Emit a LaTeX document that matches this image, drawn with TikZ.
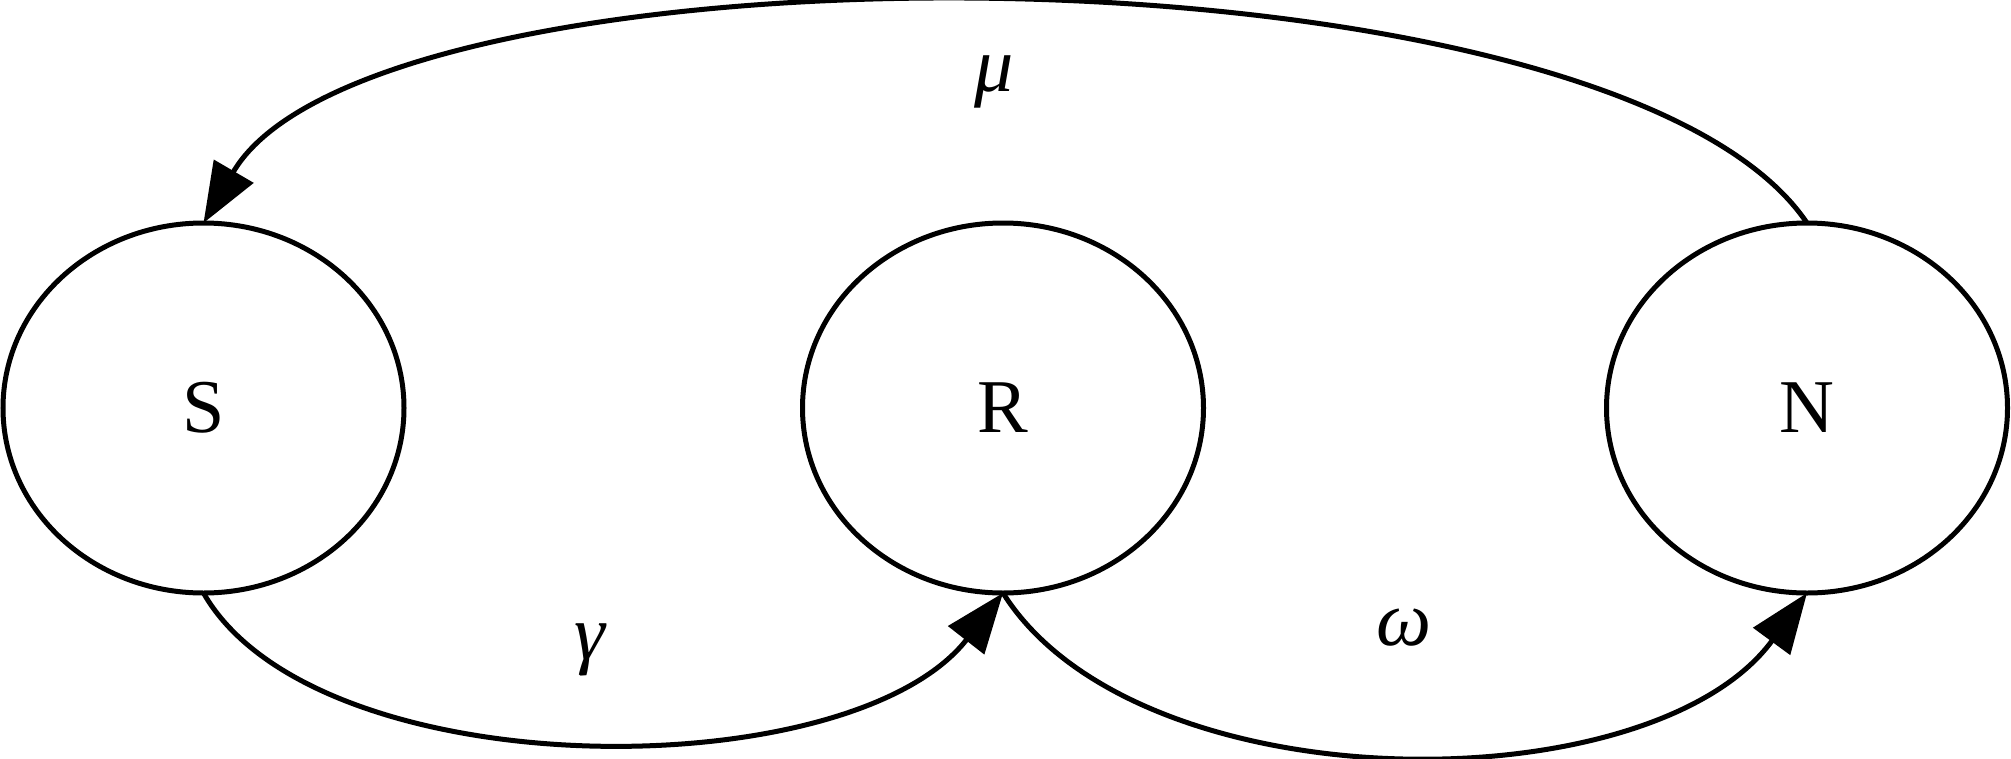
\documentclass[tikz,border=0pt]{standalone}
\usepackage{fontspec}
\setmainfont{Liberation Serif}
\usetikzlibrary{shapes.geometric,arrows.meta}
\begin{document}
\begin{tikzpicture}[x=1pt,y=-1pt,
  state/.style={ellipse,draw,line width=5pt,minimum width=401pt,minimum height=370pt,inner sep=0pt,outer sep=0pt,font=\fontsize{76}{90}\selectfont},
  arr/.style={line width=5pt,-{Triangle[length=60pt,width=45pt]}},
  lbl/.style={font=\fontsize{78}{94}\selectfont\itshape,inner sep=0pt}]
\useasboundingbox (0,0) rectangle (2011,758);
\node[state] (S) at (203.5,408) {S};
\node[state] (R) at (1003,408) {R};
\node[state] (N) at (1807,408) {N};
\draw[arr] (N.north) .. controls +(-196,-291) and +(170,-291) .. (S.north);
\draw[arr] (S.south) .. controls +(112,196) and +(-153,196) .. (R.south);
\draw[arr] (R.south) .. controls +(134,213) and +(-156,213) .. (N.south);
\node[lbl] (mu) at (994,82) {μ};
\node[lbl] (ga) at (590,650) {γ};
\node[lbl] (om) at (1404,628) {ω};
\end{tikzpicture}
\end{document}
